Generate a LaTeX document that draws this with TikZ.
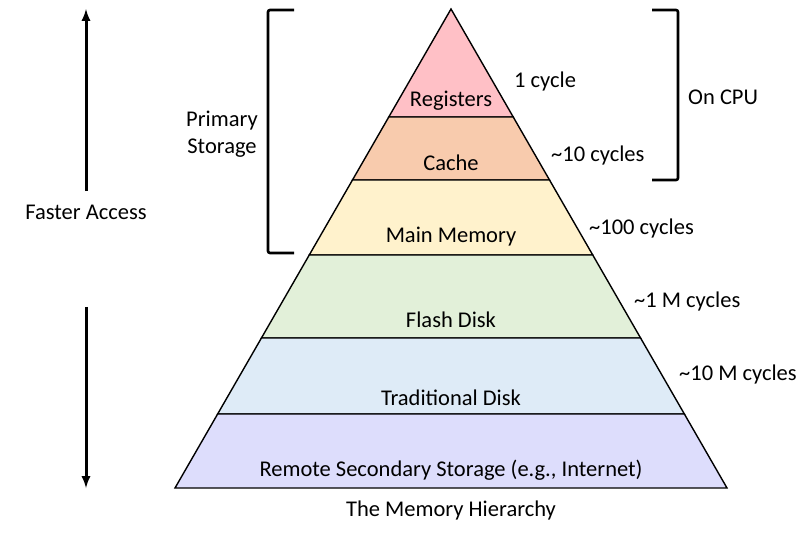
\documentclass[tikz,border=0pt]{standalone}
\usepackage{fontspec}
\setmainfont{Carlito}

\definecolor{regcol}{RGB}{255,192,198}
\definecolor{cachecol}{RGB}{248,203,173}
\definecolor{memcol}{RGB}{255,242,204}
\definecolor{flashcol}{RGB}{226,240,217}
\definecolor{diskcol}{RGB}{222,235,247}
\definecolor{remotecol}{RGB}{221,221,252}

\begin{document}
\begin{tikzpicture}[x=1pt,y=-1pt,font=\fontsize{22.5}{27}\selectfont,
    lbl/.style={inner sep=0pt,anchor=west},
    bracket/.style={line width=2.6pt,rounded corners=2pt},
    >=latex]
        \useasboundingbox (0,0) rectangle (810,536);

        % layers of the pyramid, top to bottom
        \foreach[evaluate={\xa=0.5762*(\ya-9); \xb=0.5762*(\yb-9)}] \k/\ya/\yb/\col/\txt/\ty in {
            1/9/117/regcol/Registers/101,
            2/117/180/cachecol/Cache/163,
            3/180/255/memcol/Main Memory/237,
            4/255/338/flashcol/Flash Disk/320,
            5/338/414/diskcol/Traditional Disk/398,
            6/414/488/remotecol/Remote Secondary Storage (e.g.{,} Internet)/470} {
          \filldraw[fill=\col,line width=1.4pt] (451-\xa,\ya) -- (451+\xa,\ya) -- (451+\xb,\yb) -- (451-\xb,\yb) -- cycle;
          \node (layer\k) at (451,\ty) {\txt};
        }

        \node (title) at (451,510) {The Memory Hierarchy};

        % access times
        \node[lbl] (t1) at (514,81) {1 cycle};
        \node[lbl] (t2) at (551,155) {\char`\~10 cycles};
        \node[lbl] (t3) at (589,228) {\char`\~100 cycles};
        \node[lbl] (t4) at (634,301) {\char`\~1 M cycles};
        \node[lbl] (t5) at (679,374) {\char`\~10 M cycles};

        % brackets
        \draw[bracket] (294,10) -- (268,10) -- (268,253) -- (294,253);
        \node[align=center] (prim) at (222,134) {Primary\\Storage};
        \draw[bracket] (652,10) -- (678,10) -- (678,180) -- (652,180);
        \node[lbl] (cpu) at (688,97) {On CPU};

        % faster access arrow
        \node (fast) at (86,212) {Faster Access};
        \coordinate (up) at (86,9);
        \coordinate (down) at (86,488);
        \draw[->,line width=3pt] ([yshift=10pt]fast.north) -- (up);
        \draw[->,line width=3pt] ([yshift=-84pt]fast.south) -- (down);
      \end{tikzpicture}
\end{document}
